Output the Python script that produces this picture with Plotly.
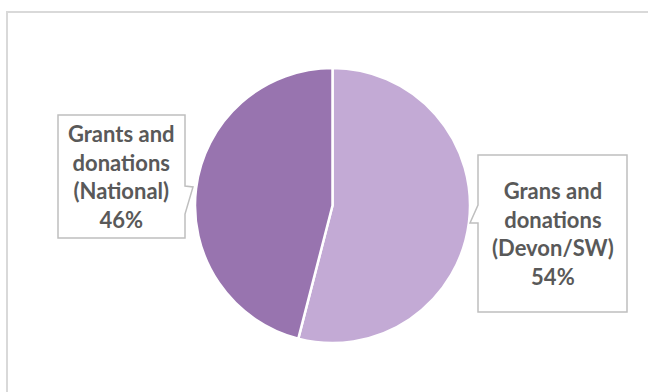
import plotly.graph_objects as go

labels = ["Grans and donations (Devon/SW)", "Grants and donations (National)"]
label_lines = [["Grans and", "donations", "(Devon/SW)"], ["Grants and", "donations", "(National)"]]
values = [54, 46]
colors = ["#C3AAD5", "#9874AF"]

W, H = 648, 392

def px(x):
    return x / W

def py(y):
    return 1 - y / H

fig = go.Figure()
fig.add_trace(go.Pie(
    labels=labels,
    values=values,
    sort=False,
    direction="clockwise",
    rotation=0,
    marker=dict(colors=colors, line=dict(color="white", width=2.5)),
    textinfo="none",
    hoverinfo="label+percent",
    showlegend=False,
    domain=dict(x=[px(195), px(470)], y=[py(343), py(68)]),
))

# frame
fig.add_shape(type="rect", xref="paper", yref="paper",
              x0=px(7), x1=px(660), y0=py(400), y1=py(12),
              line=dict(color="#D9D9D9", width=2), fillcolor="rgba(0,0,0,0)", layer="below")

def callout(points):
    d = "M " + " L ".join(f"{px(x)},{py(y)}" for x, y in points) + " Z"
    fig.add_shape(type="path", xref="paper", yref="paper", path=d,
                  line=dict(color="#BFBFBF", width=1.5), fillcolor="white", layer="above")

# right callout (Devon/SW)
callout([(478, 155), (627, 155), (627, 312), (478, 312), (478, 223), (470, 223), (478, 205)])
# left callout (National)
callout([(58, 115), (185, 115), (185, 186), (193, 187), (185, 214), (185, 238), (58, 238)])

total = sum(values)
centers = [(552.5, 233.5), (121.5, 176.5)]
for lines, v, (cx, cy) in zip(label_lines, values, centers):
    pct = f"{round(100 * v / total)}%"
    txt = "<br>".join(lines + [pct])
    fig.add_annotation(text=f"<b>{txt}</b>", xref="paper", yref="paper",
                       x=px(cx), y=py(cy), xanchor="center", yanchor="middle",
                       showarrow=False, align="center",
                       font=dict(family="Lato", size=22, color="#595959"))

fig.update_layout(width=W, height=H, margin=dict(l=0, r=0, t=0, b=0),
                  paper_bgcolor="white", plot_bgcolor="white")
fig.write_html("out.html")
